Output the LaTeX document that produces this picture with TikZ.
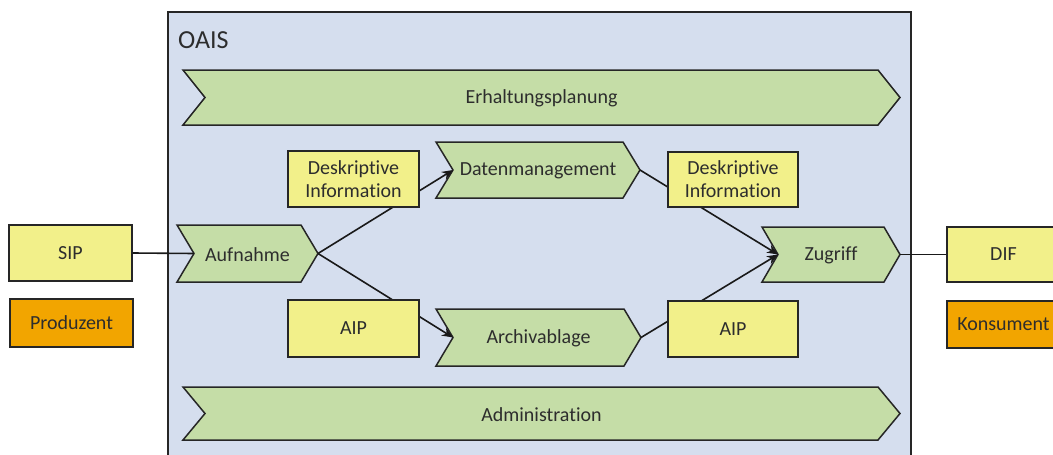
\documentclass[tikz,border=0pt]{standalone}
\usepackage{fontspec}
\setmainfont{Carlito}[Ligatures=NoCommon]
\usetikzlibrary{arrows.meta}
\definecolor{oaisbg}{RGB}{213,222,238}
\definecolor{chevgreen}{RGB}{197,221,167}
\definecolor{boxyellow}{RGB}{242,240,138}
\definecolor{boxorange}{RGB}{242,165,0}
\definecolor{txt}{RGB}{45,45,45}
\tikzset{
  chev/.style={fill=chevgreen,draw=black!85,line width=1.5pt,line join=miter},
  lbl/.style={text=txt,font=\fontsize{20}{23}\selectfont,align=center,inner sep=0pt},
  ybox/.style={fill=boxyellow,draw=black!85,line width=1.5pt,text=txt,font=\fontsize{20}{23}\selectfont,align=center},
  obox/.style={ybox,fill=boxorange},
  conn/.style={draw=black!90,line width=1.6pt},
  arr/.style={conn,-{Stealth[length=11pt,width=9pt]}}
}
\newcommand\chevron[7]{%
  \path[chev] (#2,#4) -- (#3-#6,#4) -- (#3,{(#4+#5)/2}) -- (#3-#6,#5) -- (#2,#5) -- (#2+#6,{(#4+#5)/2}) -- cycle;
  \coordinate (#1-in) at (#2+#6,{(#4+#5)/2});
  \coordinate (#1-out) at (#3,{(#4+#5)/2});
  \node[lbl] (#1) at ({(#2+#3)/2},{(#4+#5)/2+1}) {#7};
}
\newcommand\rectbox[7]{% style, name, x1, y1, x2, y2, text
  \node[#1,minimum width={#5-#3},minimum height={#6-#4},inner sep=0pt] (#2) at ({(#3+#5)/2},{(#4+#6)/2}) {#7};
}
\begin{document}
\begin{tikzpicture}[x=1pt,y=-1pt]
\useasboundingbox (0,0) rectangle (1053,455);
\clip (0,0) rectangle (1053,455);
% OAIS frame
\draw[fill=oaisbg,draw=black!85,line width=1.5pt] (168,12) rectangle (911,480);
\node[text=txt,font=\fontsize{26}{30}\selectfont,anchor=west,inner sep=0pt] (oais) at (178,40) {OAIS};
% chevrons
\chevron{erh}{183}{900}{70}{125}{22}{Erhaltungsplanung}
\chevron{adm}{183}{900}{387}{440}{22}{Administration}
\chevron{auf}{177}{318}{225}{282}{17}{Aufnahme}
\chevron{dat}{436}{640}{142}{198}{17}{Datenmanagement}
\chevron{arc}{436}{641}{309}{366}{17}{Archivablage}
\chevron{zug}{762}{900}{227}{282}{16}{Zugriff}
% outer boxes
\rectbox{ybox}{sip}{9}{225}{132}{281}{SIP}
\rectbox{obox}{prod}{10}{299}{133}{347}{Produzent}
\rectbox{ybox}{dif}{947}{227}{1060}{282}{DIF}
\rectbox{obox}{kons}{947}{301}{1060}{348}{Konsument}
% connectors
\draw[conn] (sip.east) -- (auf-in);
\draw[arr] (auf-out) -- (dat-in);
\draw[arr] (auf-out) -- (arc-in);
\draw[arr] (dat-out) -- (zug-in);
\draw[arr] (arc-out) -- (zug-in);
\draw[conn] (zug-out) -- (dif.west);
% inner boxes (on top of connectors)
\rectbox{ybox}{deskl}{288}{151}{419}{207}{Deskriptive\\Information}
\rectbox{ybox}{aipl}{288}{300}{419}{357}{AIP}
\rectbox{ybox}{deskr}{668}{152}{798}{207}{Deskriptive\\Information}
\rectbox{ybox}{aipr}{668}{301}{798}{357}{AIP}
\end{tikzpicture}
\end{document}
